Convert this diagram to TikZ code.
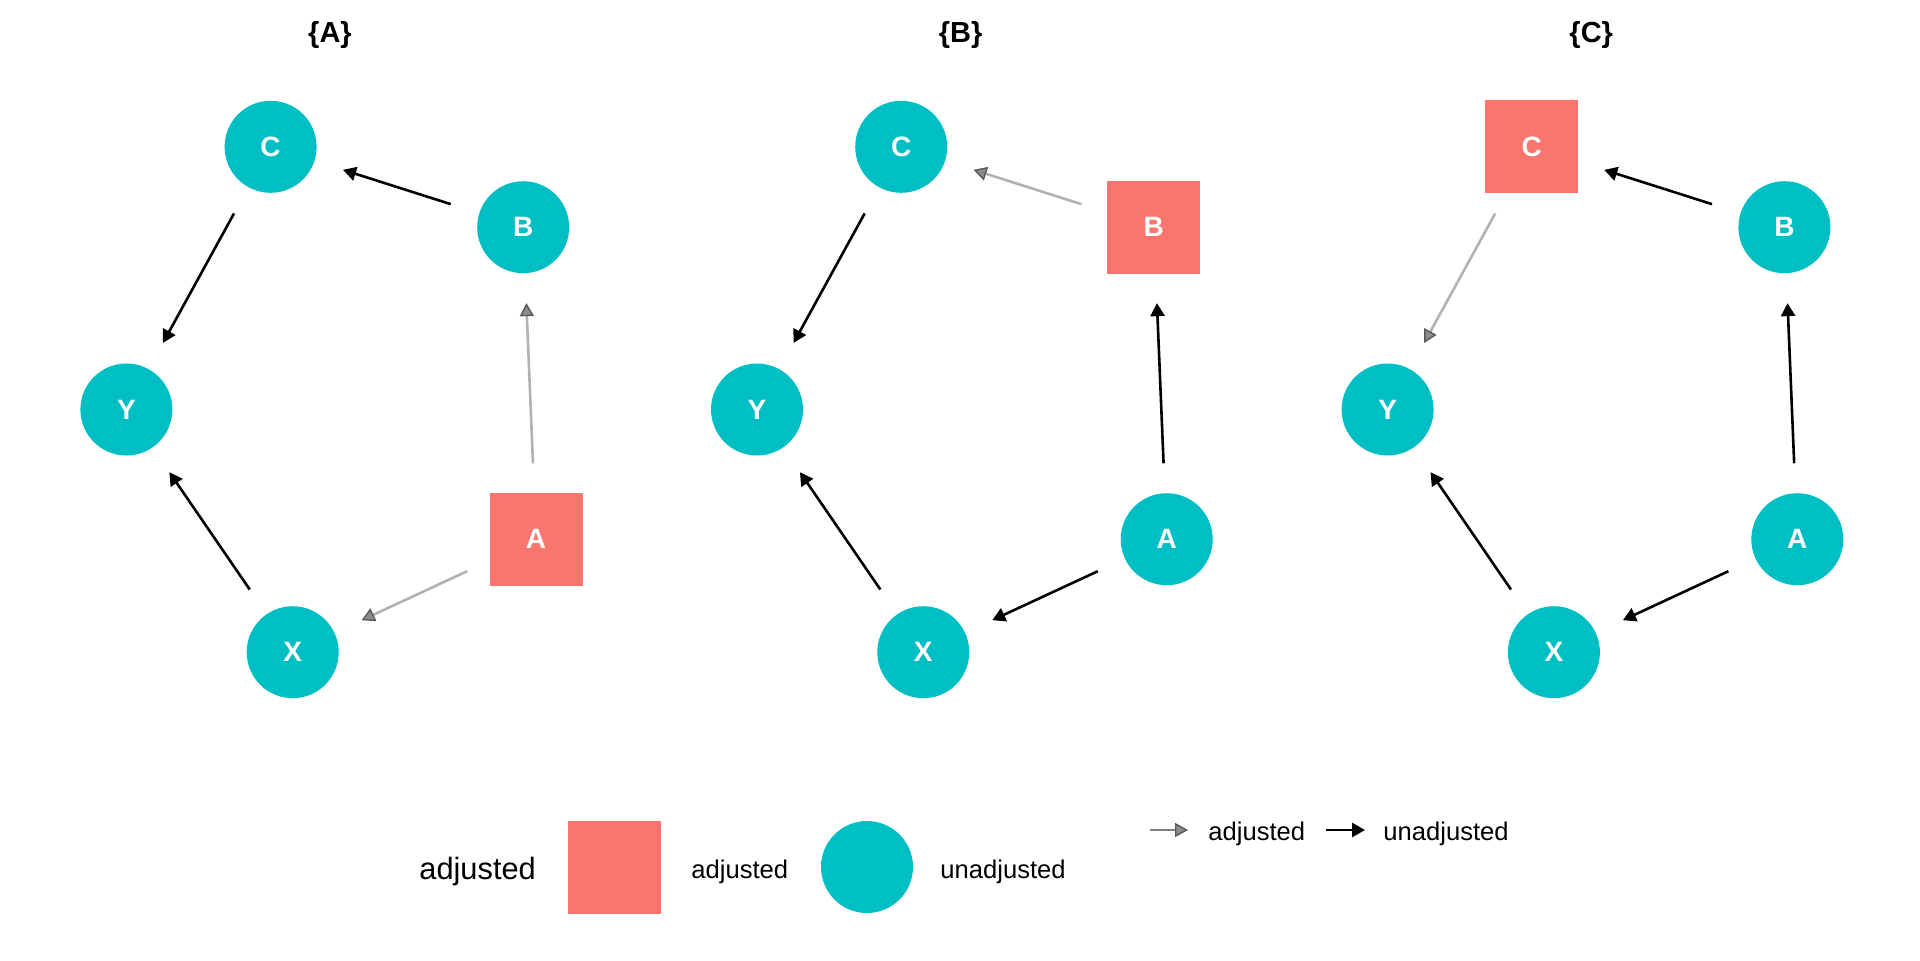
\documentclass[tikz,border=0pt]{standalone}
\usepackage{fontspec}
\setmainfont{Liberation Sans}
\usetikzlibrary{arrows.meta,calc}
\definecolor{adjcol}{HTML}{F8766D}
\definecolor{unadjcol}{HTML}{00BFC4}
\tikzset{
  dagnode/.style={text=white,font=\fontsize{14}{16}\selectfont\bfseries,inner sep=0pt},
  adjnode/.style={dagnode,rectangle,fill=adjcol,minimum size=46.5pt},
  unadjnode/.style={dagnode,circle,fill=unadjcol,minimum size=46pt},
  unadjedge/.style={black,line width=1.3pt,-{Triangle[length=6.5pt,width=7pt]}},
  adjedge/.style={black!30,line width=1.3pt,-{Triangle[length=6.5pt,width=7pt,fill=black!45,color=black!65,line width=0.7pt]}},
  legadjedge/.style={adjedge,black!50},
  legtext/.style={anchor=base west,inner sep=0pt,font=\fontsize{12.8}{15}\selectfont},
}
\begin{document}
\begin{tikzpicture}[x=0.5pt,y=-0.5pt]
\useasboundingbox (0,0) rectangle (1920,960);

\foreach \p/\adj in {0/A,1/B,2/C}{
  \begin{scope}[shift={(\p*630.6,0)}]
  \node[anchor=base,font=\fontsize{14.5}{17}\selectfont\bfseries] (title\adj) at (330,42) {\{\adj\}};
  \foreach \n/\x/\y in {C/270.6/146.8,B/523.2/227.2,Y/126.4/409.5,X/292.7/652.2,A/536.1/539.2}{
    \ifx\n\adj \node[adjnode] (p\p\n) at (\x,\y) {\n};
    \else \node[unadjnode] (p\p\n) at (\x,\y) {\n}; \fi
  }
  \foreach \s/\t in {B/C,C/Y,X/Y,A/B,A/X}{
    \ifx\s\adj \def\edgestyle{adjedge}\else \def\edgestyle{unadjedge}\fi
    \draw[\edgestyle] ($(p\p\s)!38pt!(p\p\t)$) -- ($(p\p\t)!38pt!(p\p\s)$);
  }
  \end{scope}
}

\node[anchor=base west,inner sep=0pt,font=\fontsize{15.4}{18}\selectfont] (legtitle) at (419,879) {adjusted};
\node[adjnode] (legadj) at (614,867) {};
\node[legtext] (legadjtext) at (691,878) {adjusted};
\node[unadjnode] (legunadj) at (867,867) {};
\node[legtext] (legunadjtext) at (940,878) {unadjusted};

\coordinate (ga) at (1150,830);
\coordinate (gb) at (1188,830);
\draw[legadjedge] (ga) -- (gb);
\node[legtext] (legadjedgetext) at (1208,840) {adjusted};
\coordinate (ba) at (1326,830);
\coordinate (bb) at (1365,830);
\draw[unadjedge] (ba) -- (bb);
\node[legtext] (legunadjedgetext) at (1383,840) {unadjusted};
\end{tikzpicture}
\end{document}
